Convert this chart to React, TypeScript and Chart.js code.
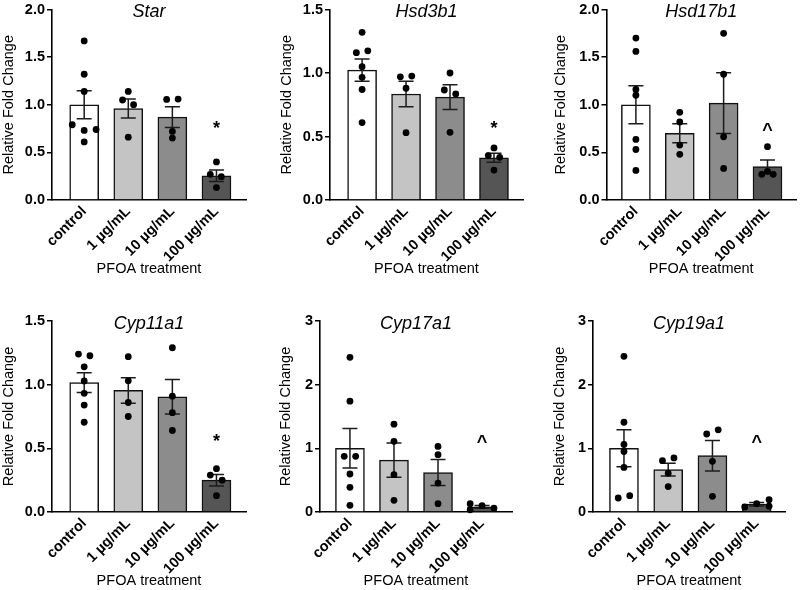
import React, { useEffect, useRef } from "react";
import { Chart, registerables } from "chart.js";

Chart.register(...registerables);

const FONT = "'Liberation Sans', Arial, Helvetica, sans-serif";
Chart.defaults.font.family = FONT;
Chart.defaults.color = "#000";

// ---------- shared labels ----------
const categories = ["control", "1 µg/mL", "10 µg/mL", "100 µg/mL"];
const xAxisTitle = "PFOA treatment";
const yAxisTitle = "Relative Fold Change";
const barColors = ["#ffffff", "#c4c4c4", "#8c8c8c", "#555555"];

// ---------- Star ----------
const starMeans = [1.0, 0.96, 0.87, 0.255];
const starSem = [0.146, 0.1, 0.11, 0.06];
const starPoints = [
  [1.67, 1.32, 1.14, 0.79, 0.73, 0.74, 0.61],
  [1.14, 1.05, 1.0, 0.66],
  [1.056, 1.06, 0.72, 0.65],
  [0.4, 0.27, 0.245, 0.13],
];
const starJitter = [
  [0, 0, 0, -0.27, 0, 0.27, 0],
  [0, -0.13, 0.12, 0],
  [-0.13, 0.13, 0, 0],
  [0, -0.14, 0.11, 0],
];

// ---------- Hsd3b1 ----------
const hsd3b1Means = [1.023, 0.835, 0.81, 0.333];
const hsd3b1Sem = [0.087, 0.1, 0.098, 0.035];
const hsd3b1Points = [
  [1.32, 1.16, 1.175, 1.05, 0.966, 0.87, 0.61],
  [0.97, 0.976, 0.88, 0.53],
  [1.0, 0.866, 0.835, 0.533],
  [0.41, 0.35, 0.336, 0.236],
];
const hsd3b1Jitter = [
  [0, -0.13, 0.13, 0, 0, 0, 0],
  [-0.13, 0.13, 0, 0],
  [0, -0.13, 0.13, 0],
  [0, -0.13, 0.13, 0],
];

// ---------- Hsd17b1 ----------
const hsd17b1Means = [1.0, 0.7, 1.017, 0.35];
const hsd17b1Sem = [0.2, 0.1, 0.32, 0.07];
const hsd17b1Points = [
  [1.7, 1.56, 1.16, 1.1, 0.636, 0.53, 0.31],
  [0.92, 0.82, 0.577, 0.48],
  [1.75, 1.32, 0.664, 0.332],
  [0.56, 0.27, 0.3, 0.27],
];
const hsd17b1Jitter = [
  [0, 0, 0, 0, 0, 0, 0],
  [0, 0, 0, 0],
  [0, 0, 0, 0],
  [0, -0.13, 0, 0.13],
];

// ---------- Cyp11a1 ----------
const cyp11a1Means = [1.016, 0.955, 0.905, 0.25];
const cyp11a1Sem = [0.077, 0.1, 0.135, 0.045];
const cyp11a1Points = [
  [1.24, 1.227, 1.14, 1.029, 0.932, 0.84, 0.705],
  [1.22, 1.03, 0.86, 0.75],
  [1.29, 0.91, 0.78, 0.64],
  [0.34, 0.29, 0.25, 0.128],
];
const cyp11a1Jitter = [
  [-0.13, 0.13, 0, 0, 0, 0, 0],
  [0, 0, 0, 0],
  [0, 0, 0, 0],
  [0, -0.14, 0.13, 0],
];

// ---------- Cyp17a1 ----------
const cyp17a1Means = [1.0, 0.815, 0.62, 0.08];
const cyp17a1Sem = [0.31, 0.27, 0.205, 0.021];
const cyp17a1Points = [
  [2.43, 1.74, 0.874, 0.874, 0.597, 0.387, 0.105],
  [1.38, 1.11, 0.586, 0.183],
  [1.03, 0.9, 0.455, 0.13],
  [0.13, 0.1, 0.06, 0.035],
];
const cyp17a1Jitter = [
  [0, 0, -0.13, 0.13, 0, 0, 0],
  [0, 0, 0, 0],
  [0, 0, 0, 0],
  [-0.27, 0, 0.27, -0.27],
];

// ---------- Cyp19a1 ----------
const cyp19a1Means = [1.0, 0.665, 0.885, 0.123];
const cyp19a1Sem = [0.29, 0.1, 0.24, 0.027];
const cyp19a1Points = [
  [2.445, 1.41, 1.06, 0.95, 0.7, 0.22, 0.257],
  [0.806, 0.85, 0.61, 0.4],
  [1.225, 1.29, 0.796, 0.246],
  [0.194, 0.13, 0.079, 0.09],
];
const cyp19a1Jitter = [
  [0, 0, 0, 0, 0, -0.13, 0.13],
  [-0.13, 0.13, 0, 0],
  [-0.13, 0.13, 0, 0],
  [0.28, 0, -0.27, 0.28],
];

// ---------- significance marks ----------
const marks = ["*", "*", "^", "*", "^", "^"];
const markValues = [0.8, 0.6, 0.78, 0.59, 1.16, 1.16];

// ---------- axis ranges ----------
const yMaxes = [2, 1.5, 2, 1.5, 3, 3];
const ySteps = [0.5, 0.5, 0.5, 0.5, 1, 1];
const yDecimals = [1, 1, 1, 1, 0, 0];

type Box = { left: number; top: number; w: number; h: number };
type Plot = { l: number; t: number; r: number; b: number };
type Panel = {
  name: string;
  means: number[];
  sems: number[];
  points: number[][];
  jitter: number[][];
  yMax: number;
  yStep: number;
  decimals: number;
  mark: string;
  markValue: number;
  canvas: Box;
  plot: Plot;
  yTitleGap: number;
  xMin: number;
  xMax: number;
};

// layout (pixels)
const layouts: { canvas: Box; plot: Plot; gap: number; xMin: number; xMax: number }[] = [
  { canvas: { left: 0, top: 0, w: 265, h: 295 }, plot: { l: 52, t: 9.5, r: 246, b: 200 }, gap: 43, xMin: -0.73, xMax: 3.67 },
  { canvas: { left: 265, top: 0, w: 265, h: 295 }, plot: { l: 65, t: 9.5, r: 258, b: 200 }, gap: 43.5, xMin: -0.73, xMax: 3.66 },
  { canvas: { left: 530, top: 0, w: 270, h: 295 }, plot: { l: 76.5, t: 9.5, r: 267, b: 200 }, gap: 46, xMin: -0.67, xMax: 3.65 },
  { canvas: { left: 0, top: 295, w: 265, h: 295 }, plot: { l: 52, t: 26, r: 246, b: 217 }, gap: 43, xMin: -0.73, xMax: 3.67 },
  { canvas: { left: 265, top: 295, w: 265, h: 295 }, plot: { l: 55, t: 26, r: 247, b: 217 }, gap: 34, xMin: -0.68, xMax: 3.68 },
  { canvas: { left: 530, top: 295, w: 270, h: 295 }, plot: { l: 63, t: 26, r: 255, b: 217 }, gap: 33, xMin: -0.7, xMax: 3.64 },
];

const geneNames = ["Star", "Hsd3b1", "Hsd17b1", "Cyp11a1", "Cyp17a1", "Cyp19a1"];
const allMeans = [starMeans, hsd3b1Means, hsd17b1Means, cyp11a1Means, cyp17a1Means, cyp19a1Means];
const allSems = [starSem, hsd3b1Sem, hsd17b1Sem, cyp11a1Sem, cyp17a1Sem, cyp19a1Sem];
const allPoints = [starPoints, hsd3b1Points, hsd17b1Points, cyp11a1Points, cyp17a1Points, cyp19a1Points];
const allJitter = [starJitter, hsd3b1Jitter, hsd17b1Jitter, cyp11a1Jitter, cyp17a1Jitter, cyp19a1Jitter];

const panels: Panel[] = geneNames.map((name, i) => ({
  name,
  means: allMeans[i],
  sems: allSems[i],
  points: allPoints[i],
  jitter: allJitter[i],
  yMax: yMaxes[i],
  yStep: ySteps[i],
  decimals: yDecimals[i],
  mark: marks[i],
  markValue: markValues[i],
  canvas: layouts[i].canvas,
  plot: layouts[i].plot,
  yTitleGap: layouts[i].gap,
  xMin: layouts[i].xMin,
  xMax: layouts[i].xMax,
}));

const FS = 14.5;
const TITLE_LH = FS * 1.2;
const X_AXIS_H = 78;

function overlayPlugin(p: Panel) {
  return {
    id: "overlay" + p.name,
    afterDatasetDraw(chart: any, args: any) {
      if (args.index !== 1) return;
      const ctx = chart.ctx;
      const xs = chart.scales.x;
      const ys = chart.scales.y;
      ctx.save();
      ctx.strokeStyle = "#1c1c1c";
      ctx.lineWidth = 1.5;
      p.means.forEach((m, i) => {
        const x = xs.getPixelForValue(i);
        const yt = ys.getPixelForValue(m + p.sems[i]);
        const yb = ys.getPixelForValue(m - p.sems[i]);
        ctx.beginPath();
        ctx.moveTo(x, yt);
        ctx.lineTo(x, yb);
        ctx.moveTo(x - 7.5, yt);
        ctx.lineTo(x + 7.5, yt);
        ctx.moveTo(x - 7.5, yb);
        ctx.lineTo(x + 7.5, yb);
        ctx.stroke();
      });
      ctx.restore();
    },
    afterDraw(chart: any) {
      const ctx = chart.ctx;
      const a = chart.chartArea;
      const xs = chart.scales.x;
      const ys = chart.scales.y;
      ctx.save();
      ctx.fillStyle = "#000";
      ctx.textAlign = "center";
      ctx.textBaseline = "alphabetic";
      ctx.font = `italic 18px ${FONT}`;
      ctx.fillText(p.name, (a.left + a.right) / 2, a.top + 7.5);
      const size = 18;
      ctx.font = `bold ${size}px ${FONT}`;
      ctx.fillText(p.mark, xs.getPixelForValue(3), ys.getPixelForValue(p.markValue) + size * 0.55);
      ctx.restore();
    },
  };
}

function PanelChart({ p }: { p: Panel }) {
  const ref = useRef<HTMLCanvasElement | null>(null);
  useEffect(() => {
    const canvas = ref.current;
    if (!canvas) return;
    const yW = p.yTitleGap + TITLE_LH / 2;
    const scatterData: { x: number; y: number }[] = [];
    p.points.forEach((grp, i) =>
      grp.forEach((v, j) => scatterData.push({ x: i + p.jitter[i][j], y: v }))
    );
    const chart = new Chart(canvas, {
      type: "bar",
      data: {
        datasets: [
          {
            type: "scatter",
            data: scatterData,
            backgroundColor: "#000",
            borderColor: "#000",
            borderWidth: 0,
            pointRadius: 3.4,
            order: 1,
            clip: false,
          } as any,
          {
            type: "bar",
            data: p.means.map((m, i) => ({ x: i, y: m })),
            backgroundColor: barColors,
            borderColor: "#111",
            borderWidth: 1.5,
            barThickness: 29,
            borderSkipped: "bottom",
            order: 2,
          } as any,
        ],
      },
      options: {
        animation: false,
        responsive: false,
        events: [],
        layout: {
          padding: {
            left: p.plot.l - yW,
            top: p.plot.t,
            right: p.canvas.w - p.plot.r,
            bottom: p.canvas.h - p.plot.b - X_AXIS_H,
          },
        },
        plugins: { legend: { display: false }, tooltip: { enabled: false } },
        scales: {
          x: {
            type: "linear",
            offset: false,
            min: p.xMin,
            max: p.xMax,
            afterBuildTicks: (s: any) => {
              s.ticks = categories.map((_, i) => ({ value: i }));
            },
            afterFit: (s: any) => {
              s.height = X_AXIS_H;
              s.paddingLeft = 0;
              s.paddingRight = 0;
            },
            ticks: {
              callback: (v: any) => categories[Number(v)] ?? "",
              autoSkip: false,
              minRotation: 45,
              maxRotation: 45,
              padding: 3,
              color: "#000",
              font: { size: FS, weight: "bold", family: FONT },
            },
            grid: { display: false, drawTicks: false, offset: false },
            border: { display: true, color: "#000", width: 1.6 },
            title: {
              display: true,
              text: xAxisTitle,
              color: "#000",
              padding: 0,
              font: { size: FS, family: FONT },
            },
          },
          y: {
            type: "linear",
            min: 0,
            max: p.yMax,
            afterFit: (s: any) => {
              s.width = yW;
              s.paddingTop = 0;
              s.paddingBottom = 0;
            },
            ticks: {
              stepSize: p.yStep,
              callback: (v: any) => Number(v).toFixed(p.decimals),
              padding: 2,
              color: "#000",
              font: { size: FS, weight: "bold", family: FONT },
            },
            grid: {
              display: true,
              drawOnChartArea: false,
              drawTicks: true,
              tickLength: 5,
              color: "#000",
              lineWidth: 1.5,
            },
            border: { display: true, color: "#000", width: 1.6 },
            title: {
              display: true,
              text: yAxisTitle,
              color: "#000",
              padding: 0,
              font: { size: FS, family: FONT },
            },
          },
        },
      } as any,
      plugins: [overlayPlugin(p)],
    });
    return () => chart.destroy();
  }, [p]);
  return (
    <canvas
      ref={ref}
      width={p.canvas.w}
      height={p.canvas.h}
      style={{ position: "absolute", left: p.canvas.left, top: p.canvas.top, display: "block" }}
    />
  );
}

export default function App() {
  return (
    <div
      style={{
        position: "absolute",
        left: 0,
        top: 0,
        width: 800,
        height: 590,
        background: "#fff",
        overflow: "hidden",
      }}
    >
      {panels.map((p) => (
        <PanelChart key={p.name} p={p} />
      ))}
    </div>
  );
}
